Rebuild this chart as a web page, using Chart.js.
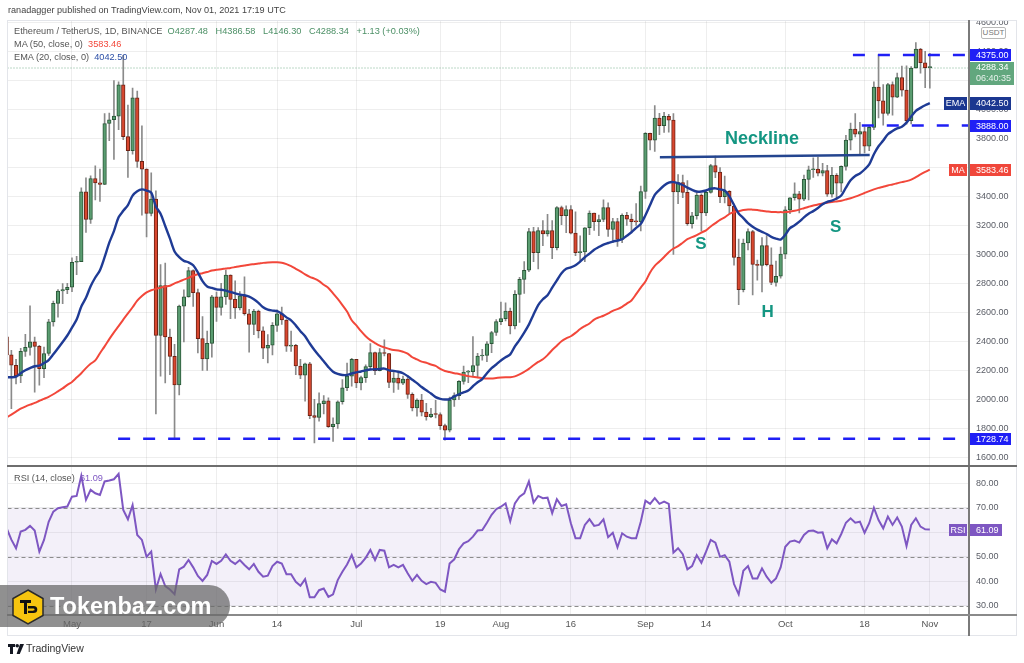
<!DOCTYPE html>
<html><head><meta charset="utf-8">
<script src="https://cdn.jsdelivr.net/npm/chart.js@4.4.0/dist/chart.umd.min.js"></script>
<style>
html,body{margin:0;padding:0;background:#fff;}
#wrap{position:relative;width:1024px;height:663px;overflow:hidden;font-family:"Liberation Sans",Arial,sans-serif;}
canvas{position:absolute;left:0;top:0;}
.abs{position:absolute;}
.lg{position:absolute;left:14px;font-size:9.2px;color:#555;white-space:pre;line-height:13px;}
</style></head><body>
<div id="wrap">
<canvas id="main" width="1024" height="663"></canvas>
<canvas id="rsi" width="1024" height="663"></canvas>

<div class="abs" style="left:7px;top:20px;width:1010px;height:616px;border:1px solid #e3e5ea;box-sizing:border-box;"></div>
<div class="abs" style="left:960px;top:0;width:64px;height:20px;background:#fff;"></div>
<div class="abs" style="left:968px;top:20px;width:1.5px;height:616px;background:#7a7a7a;"></div>
<div class="abs" style="left:7px;top:465px;width:1010px;height:2px;background:#6e6e6e;"></div>
<div class="abs" style="left:7px;top:614px;width:1010px;height:1.5px;background:#8a8a8a;"></div>
<div class="abs" style="left:981px;top:27px;width:23px;height:10px;border:1px solid #b8b8b8;border-radius:2px;background:#fff;font-size:8px;color:#777;text-align:center;line-height:10px;">USDT</div>

<div class="abs" style="left:8px;top:5px;font-size:9.1px;color:#444;white-space:pre;">ranadagger published on TradingView.com, Nov 01, 2021 17:19 UTC</div>
<div class="lg" style="top:25px;">Ethereum / TetherUS, 1D, BINANCE  <span id="ohlc" style="color:#4b8f65"></span></div>
<div class="lg" style="top:38px;">MA (50, close, 0)  <span id="maV" style="color:#f2473a"></span></div>
<div class="lg" style="top:51px;">EMA (20, close, 0)  <span id="emaV" style="color:#2b4ea6"></span></div>
<div class="lg" style="top:472px;">RSI (14, close)  <span id="rsiV" style="color:#7e57c2"></span></div>

<div class="abs" style="left:0;top:585px;width:230px;height:42px;border-radius:0 21px 21px 0;background:rgba(105,105,105,0.74);"></div>
<svg class="abs" style="left:12px;top:589px;" width="32" height="36" viewBox="0 0 32 36">
<polygon points="16,1 31,9.5 31,26.5 16,35 1,26.5 1,9.5" fill="#f6c40f" stroke="#2a2a2a" stroke-width="1.5"/>
<path d="M8 11h11v3h-4v11h-3V14H8z" fill="#111"/>
<path d="M16 17h5.5c2.6 0 3.8 1.3 3.8 3.5 0 2.3-1.4 3.6-3.9 3.6H16v-2.4h5c1 0 1.5-.4 1.5-1.2s-.5-1.1-1.5-1.1H16z" fill="#111"/>
</svg>
<div class="abs" style="left:50px;top:590px;font-size:23.5px;font-weight:bold;color:#fff;line-height:32px;">Tokenbaz.com</div>

<svg class="abs" style="left:8px;top:644px;" width="16" height="10" viewBox="0 0 16 10">
<path d="M0 0h7v3H5v7H2V3H0z" fill="#131722"/><circle cx="9.2" cy="1.8" r="1.8" fill="#131722"/><path d="M12 0h4l-4.2 10H8.6z" fill="#131722"/>
</svg>
<div class="abs" style="left:26px;top:642px;font-size:10.5px;color:#333;">TradingView</div>
</div>

<script>
// ---------- DATA (daily, Apr 17 2021 -> Nov 01 2021) ----------
const opens = [2431,2307,2235,2162,2331,2358,2397,2365,2211,2316,
 2534,2662,2747,2757,2773,2945,2950,3431,3240,3523,
 3493,3482,3902,3928,3953,4169,3812,3715,4079,3641,
 3587,3282,3381,2440,2784,2430,2296,2100,2643,2706,
 2888,2736,2419,2278,2386,2707,2634,2707,2856,2689,
 2630,2714,2590,2517,2608,2472,2353,2373,2510,2589,
 2547,2367,2373,2230,2166,2244,1888,1875,1970,1990,
 1812,1830,1983,2080,2160,2275,2113,2150,2226,2322,
 2197,2323,2316,2116,2146,2111,2140,2034,1941,1995,
 1912,1880,1898,1895,1819,1788,1995,2025,2124,2188,
 2191,2233,2299,2302,2383,2461,2536,2557,2609,2507,
 2724,2827,2890,3157,3012,3163,3140,3164,3045,3323,
 3267,3309,3146,3012,3017,3183,3284,3225,3240,3322,
 3172,3226,3102,3269,3243,3226,3224,3433,3834,3787,
 3940,3887,3951,3926,3430,3495,3427,3211,3266,3408,
 3286,3427,3612,3567,3398,3434,3333,2979,2757,3078,
 3156,2930,2924,3060,2928,2807,2849,3001,3307,3390,
 3417,3380,3517,3583,3587,3560,3577,3415,3544,3490,
 3606,3787,3863,3828,3847,3746,3876,4154,4058,3972,
 4170,4084,4219,4132,3922,4285,4416,4321,4287.48];
const highs = [2497,2337,2276,2352,2448,2644,2430,2373,2360,2551,
 2677,2757,2798,2800,2975,2986,3458,3527,3542,3611,
 3587,3971,3974,4199,4190,4372,4030,4147,4125,3886,
 3590,3562,3438,2930,2940,2485,2380,2650,2755,2911,
 2893,2760,2570,2470,2717,2740,2800,2891,2858,2817,
 2743,2845,2620,2620,2616,2500,2447,2530,2617,2636,
 2550,2470,2380,2275,2250,2255,2000,2045,2025,2010,
 1873,1990,2136,2250,2283,2275,2160,2237,2385,2325,
 2350,2410,2318,2186,2187,2160,2165,2044,2004,2034,
 1973,1937,1993,1907,1829,2016,2045,2130,2230,2200,
 2432,2317,2345,2398,2469,2550,2670,2665,2630,2750,
 2842,2950,3180,3186,3185,3232,3275,3233,3330,3332,
 3335,3336,3293,3128,3185,3300,3285,3270,3375,3355,
 3249,3249,3280,3290,3278,3350,3470,3840,3836,4026,
 3972,3980,3965,3970,3550,3547,3508,3290,3440,3418,
 3440,3620,3677,3599,3540,3440,3346,3105,3105,3175,
 3165,2960,3115,3130,3045,2953,3050,3330,3392,3493,
 3435,3547,3608,3665,3670,3627,3613,3600,3557,3610,
 3820,3905,3970,3910,3880,3890,4190,4375,4170,4180,
 4190,4250,4298,4300,4295,4460,4420,4400,4386.58];
const lows = [2298,1936,2106,2114,2295,2305,2050,2098,2150,2303,
 2505,2566,2660,2728,2743,2860,2950,3151,3213,3375,
 3365,3480,3783,3655,3860,3791,3530,3690,3600,3270,
 3120,3265,1900,2160,2113,2170,1728,2030,2395,2705,
 2640,2320,2200,2200,2290,2538,2580,2655,2557,2558,
 2616,2581,2325,2445,2423,2280,2251,2306,2468,2517,
 2330,2330,2170,2143,1988,1867,1700,1850,1900,1806,
 1710,1800,1967,2060,2090,2080,2065,2117,2210,2170,
 2195,2300,2081,2048,2068,2101,2007,1920,1883,1886,
 1857,1874,1872,1792,1718,1776,1951,1997,2104,2115,
 2157,2153,2270,2260,2322,2440,2515,2540,2451,2485,
 2530,2730,2880,2950,2900,3060,3125,2970,3030,3205,
 3150,3141,2990,2952,2950,3135,3164,3128,3225,3123,
 3080,3055,3080,3200,3153,3200,3162,3385,3720,3710,
 3825,3840,3842,3000,3350,3390,3200,3180,3242,3160,
 3266,3422,3528,3356,3355,3280,2925,2652,2740,3030,
 2720,2822,2740,2920,2791,2781,2836,2970,3280,3373,
 3285,3370,3376,3530,3540,3540,3400,3394,3375,3430,
 3580,3720,3810,3680,3700,3715,3860,3940,3890,3960,
 3960,4080,4090,3898,3900,4283,4250,4150,4146.30];
const closes = [2307,2235,2162,2331,2358,2397,2365,2211,2316,2534,
 2662,2747,2757,2773,2945,2950,3431,3240,3523,3493,
 3482,3902,3928,3953,4169,3812,3715,4079,3641,3587,
 3282,3381,2440,2784,2430,2296,2100,2643,2706,2888,
 2736,2419,2278,2386,2707,2634,2707,2856,2689,2630,
 2714,2590,2517,2608,2472,2353,2373,2510,2589,2547,
 2367,2373,2230,2166,2244,1888,1875,1970,1990,1812,
 1830,1983,2080,2160,2275,2113,2150,2226,2322,2197,
 2323,2316,2116,2146,2111,2140,2034,1941,1995,1912,
 1880,1898,1895,1819,1788,1995,2025,2124,2188,2191,
 2233,2299,2302,2383,2461,2536,2557,2609,2507,2724,
 2827,2890,3157,3012,3163,3140,3164,3045,3323,3267,
 3309,3146,3012,3017,3183,3284,3225,3240,3322,3172,
 3226,3102,3269,3243,3226,3224,3433,3834,3787,3940,
 3887,3951,3926,3430,3495,3427,3211,3266,3408,3286,
 3427,3612,3567,3398,3434,3333,2979,2757,3078,3156,
 2930,2924,3060,2928,2807,2849,3001,3307,3390,3417,
 3380,3517,3583,3587,3560,3577,3415,3544,3490,3606,
 3787,3863,3828,3847,3746,3876,4154,4058,3972,4170,
 4084,4219,4132,3922,4285,4416,4321,4287,4288.34];
const ema20 = [2152,2152,2156,2180,2200,2215,2228,2232,2250,2271,
 2310,2352,2395,2440,2495,2550,2640,2700,2780,2840,
 2890,2980,3080,3160,3255,3300,3340,3405,3435,3448,
 3440,3425,3330,3280,3195,3110,3020,2980,2955,2945,
 2925,2875,2815,2778,2768,2758,2756,2750,2740,2730,
 2722,2718,2708,2690,2665,2635,2618,2612,2608,2590,
 2565,2545,2510,2470,2435,2385,2340,2300,2262,2222,
 2190,2175,2168,2168,2178,2186,2192,2200,2206,2207,
 2209,2212,2200,2196,2190,2180,2160,2135,2112,2085,
 2062,2040,2015,2003,1999,2002,2020,2035,2048,2060,
 2090,2118,2140,2180,2215,2240,2268,2290,2310,2365,
 2410,2460,2515,2585,2650,2690,2718,2770,2820,2870,
 2900,2910,2925,2950,2980,3005,3032,3050,3067,3078,
 3088,3095,3104,3128,3152,3182,3210,3270,3340,3410,
 3445,3475,3495,3498,3490,3478,3460,3445,3432,3433,
 3440,3452,3455,3448,3440,3400,3340,3282,3250,3215,
 3190,3170,3155,3140,3120,3108,3102,3135,3180,3200,
 3225,3255,3280,3298,3320,3345,3362,3370,3385,3405,
 3460,3510,3540,3558,3585,3620,3690,3745,3785,3828,
 3850,3868,3880,3908,3950,3990,4010,4028,4042.50];
const ma50 = [1875,1895,1915,1935,1950,1963,1975,1990,2003,2017,
 2035,2055,2075,2100,2120,2150,2180,2215,2245,2268,
 2318,2365,2415,2462,2505,2550,2592,2635,2680,2712,
 2737,2752,2761,2770,2778,2783,2800,2812,2825,2838,
 2852,2862,2870,2878,2888,2894,2897,2902,2906,2912,
 2918,2923,2928,2932,2936,2941,2944,2945,2945,2942,
 2932,2918,2900,2882,2862,2845,2832,2815,2790,2768,
 2730,2692,2650,2605,2545,2510,2470,2435,2408,2388,
 2370,2358,2348,2340,2337,2328,2315,2290,2275,2260,
 2252,2240,2230,2210,2195,2188,2180,2175,2168,2160,
 2155,2150,2146,2143,2144,2147,2150,2152,2152,2158,
 2172,2190,2210,2235,2258,2276,2305,2340,2370,2400,
 2420,2435,2458,2485,2505,2523,2550,2565,2576,2592,
 2610,2622,2638,2660,2682,2725,2770,2813,2875,2920,
 2950,2982,3015,3040,3056,3080,3105,3118,3133,3150,
 3165,3192,3215,3238,3255,3278,3292,3298,3305,3309,
 3308,3306,3300,3296,3292,3291,3291,3291,3295,3300,
 3308,3318,3328,3337,3343,3350,3356,3360,3365,3370,
 3378,3387,3398,3410,3423,3436,3448,3458,3466,3475,
 3482,3490,3498,3505,3515,3532,3551,3568,3583.46];
const rsi14 = [61.6,57,53.5,60.3,61,62.6,60.7,52.1,56.9,64.3,
 68.4,69.8,70.2,70.5,74.5,74.8,83,73.2,77.3,75.9,
 75.2,80.7,81.1,81.6,83.8,69.1,65.3,71.1,58.9,56.9,
 50,52.1,36.7,43,38.1,36.7,34.8,44.9,46,48.7,
 45.7,42.2,40.2,42.6,48.3,47.1,48.4,51,48.4,47.1,
 48.7,46.7,44.9,47.1,43.9,41.9,42.3,46.2,48,47.3,
 42.9,42.9,39.8,38.2,40.9,33.5,33.5,36.4,37.1,33.7,
 34.7,40.5,43.9,46.9,50.7,45.7,47.3,49.6,52.8,48.7,
 52.8,52.5,45.7,46.7,45.7,46.7,43.3,40.2,42.6,40.2,
 38.9,39.8,39.4,36.7,35.8,47.3,49,53.1,55.5,56.4,
 58.2,60.7,60.9,63.9,67.1,69.4,70.4,71.8,64.5,71.8,
 74.5,75.9,80.7,72.1,74.8,73.9,74.1,67.8,73.5,70.7,
 71.4,63.7,57.6,57.6,63,65.3,62.6,63,65.3,58,
 59.8,53.9,59.6,58.2,57.6,57.6,64.3,72.9,71.6,73.9,
 71.6,72.5,71.6,51.7,53.5,51.1,44.9,46.2,50.7,47.6,
 52.1,56.9,55.8,50,50.7,48,38.9,34.7,44.3,46.2,
 41.2,41.2,45.3,41.9,39.4,41.2,45.7,54.1,56.2,56.6,
 55.8,58.9,60.5,60.7,59.8,60,53.5,57.1,55.5,59.3,
 63.9,65.7,63.9,64.3,59.8,63.7,70,65,61.6,66.4,
 63,66,62.3,54.4,63,65.7,62.3,61.2,61.09];

// tick labels (day index from Apr 17)
const tickDays = [14,30,45,58,75,93,106,121,137,150,167,184,198];
const tickLabels = ['May','17','Jun','14','Jul','19','Aug','16','Sep','14','Oct','18','Nov'];
const priceTicks = [1600,1800,2000,2200,2400,2600,2800,3000,3200,3400,3600,3800,4000,4200,4400,4600];
const rsiTicks = [30,40,50,60,70,80];

// drawn levels & pattern annotations (in data units)
const levelValues = [4375, 3888, 1728.74];
const levelStartDays = [181.5, 183.4, 23.9];
const necklineDays = [140.1, 185.1];
const necklinePrices = [3669, 3685];
const noteLabels = ['Neckline', 'S', 'H', 'S'];
const noteDays = [162, 148.9, 163.2, 177.8];
const notePrices = [3795, 3071, 2599, 3188];

// ---------- CONFIG ----------
const X_MIN = 0.17, X_MAX = 206.4;
const FONT = '"Liberation Sans", Arial, sans-serif';
const GRID = 'rgba(0,0,0,0.065)';
const N = closes.length, L = N - 1;
const fmt = v => Number(v).toFixed(2);

document.getElementById('ohlc').textContent =
  'O' + fmt(opens[L]) + '   H' + fmt(highs[L]) + '   L' + fmt(lows[L]) + '   C' + fmt(closes[L]) + '   +1.13 (+0.03%)';
document.getElementById('maV').textContent = fmt(ma50[L]);
document.getElementById('emaV').textContent = fmt(ema20[L]);
document.getElementById('rsiV').textContent = fmt(rsi14[L]);

const upFill = '#5a9d71', upLine = '#2a5637', dnFill = '#d8472f', dnLine = '#6e2214';
const isUp = closes.map((c, i) => c >= opens[i]);

function tag(ctx, x, yc, w, h, bg, text, align) {
  ctx.fillStyle = bg;
  ctx.fillRect(x, Math.round(yc - h / 2), w, h);
  ctx.fillStyle = '#fff';
  ctx.textBaseline = 'middle';
  if (align === 'center') { ctx.textAlign = 'center'; ctx.fillText(text, x + w / 2, yc + 0.5); }
  else { ctx.textAlign = 'left'; ctx.fillText(text, 976, yc + 0.5); }
}

const mainPlugin = {
  id: 'mainPlugin',
  beforeDatasetsDraw(chart) {
    const { ctx, chartArea: a, scales: { y } } = chart;
    const py = y.getPixelForValue(closes[L]);
    ctx.save();
    ctx.strokeStyle = 'rgba(75,150,105,0.75)';
    ctx.lineWidth = 1;
    ctx.setLineDash([1, 2]);
    ctx.beginPath(); ctx.moveTo(a.left, py + 0.5); ctx.lineTo(a.right, py + 0.5); ctx.stroke();
    ctx.restore();
  },
  afterDatasetsDraw(chart) {
    const { ctx, scales: { x, y } } = chart;
    ctx.save();
    ctx.fillStyle = '#149682';
    ctx.textAlign = 'center';
    ctx.textBaseline = 'middle';
    noteLabels.forEach((t, i) => {
      ctx.font = (i === 0 ? 'bold 18px ' : 'bold 17px ') + FONT;
      ctx.fillText(t, x.getPixelForValue(noteDays[i]), y.getPixelForValue(notePrices[i]));
    });
    ctx.restore();
  },
  afterDraw(chart) {
    const { ctx, scales: { y } } = chart;
    ctx.save();
    ctx.font = '9px ' + FONT;
    levelValues.forEach(v => tag(ctx, 969, y.getPixelForValue(v), 42, 12, '#1f1ff5', fmt(v)));
    const ye = y.getPixelForValue(ema20[L]);
    tag(ctx, 969, ye, 42, 13, '#1b3790', fmt(ema20[L]));
    tag(ctx, 944, ye, 23, 13, '#1b3790', 'EMA', 'center');
    const ym = y.getPixelForValue(ma50[L]);
    tag(ctx, 969, ym, 42, 12, '#f0473b', fmt(ma50[L]));
    tag(ctx, 949, ym, 18, 12, '#f0473b', 'MA', 'center');
    const yc = y.getPixelForValue(closes[L]);
    ctx.fillStyle = '#62a77e';
    ctx.fillRect(969, Math.round(yc - 6), 45, 23);
    ctx.fillStyle = '#fff'; ctx.textAlign = 'left'; ctx.textBaseline = 'middle';
    ctx.fillText(fmt(closes[L]), 976, yc + 0.5);
    ctx.fillStyle = 'rgba(255,255,255,0.85)';
    ctx.fillText('06:40:35', 976, yc + 11.5);
    ctx.restore();
  }
};

const xCommon = {
  type: 'linear', min: X_MIN, max: X_MAX, offset: false,
  afterBuildTicks: s => { s.ticks = tickDays.map(v => ({ value: v })); },
  grid: { color: GRID, drawTicks: false, offset: false },
  border: { display: false }
};

new Chart(document.getElementById('main'), {
  type: 'bar',
  data: {
    datasets: [
      ...levelValues.map((v, i) => ({
        type: 'line', data: [{ x: levelStartDays[i], y: v }, { x: X_MAX, y: v }],
        borderColor: '#1f1ff5', borderWidth: 2.5, borderDash: [12, 13], pointRadius: 0, order: 0, clip: 0
      })),
      { type: 'line', data: necklineDays.map((d, i) => ({ x: d, y: necklinePrices[i] })),
        borderColor: '#24458f', borderWidth: 2.5, pointRadius: 0, order: 0, clip: 0 },
      { type: 'line', label: 'EMA 20', data: ema20.map((v, i) => ({ x: i, y: v })),
        borderColor: '#1f3b95', borderWidth: 2.4, pointRadius: 0, tension: 0.3, order: 1, clip: 0 },
      { type: 'line', label: 'MA 50', data: ma50.map((v, i) => ({ x: i, y: v })),
        borderColor: '#f2473a', borderWidth: 2, pointRadius: 0, tension: 0.3, order: 2, clip: 0 },
      { label: 'body', data: closes.map((c, i) => ({ x: i, y: [opens[i], c] })),
        backgroundColor: isUp.map(u => u ? upFill : dnFill), borderColor: isUp.map(u => u ? upLine : dnLine),
        borderWidth: 1, borderSkipped: false, barThickness: 3.6, minBarLength: 1, grouped: false, order: 4, clip: 0 },
      { label: 'wick', data: highs.map((h, i) => ({ x: i, y: [lows[i], h] })),
        backgroundColor: '#8a8a8a', borderWidth: 0, barThickness: 1, grouped: false, order: 5, clip: 0 }
    ]
  },
  options: {
    responsive: false, animation: false, devicePixelRatio: 1, events: [],
    layout: { padding: { left: 7.5, top: 20, right: 7, bottom: 198 } },
    plugins: { legend: { display: false }, tooltip: { enabled: false } },
    scales: {
      x: Object.assign({}, xCommon, { ticks: { display: false }, afterFit: s => { s.height = 0; } }),
      y: {
        type: 'linear', position: 'right', min: 1547, max: 4616,
        afterBuildTicks: s => { s.ticks = priceTicks.map(v => ({ value: v })); },
        ticks: { callback: v => fmt(v), font: { size: 9, family: FONT }, color: '#5a5d66', padding: 7 },
        grid: { color: GRID, drawTicks: false }, border: { display: false },
        afterFit: s => { s.width = 48; }
      }
    }
  },
  plugins: [mainPlugin]
});

const rsiPlugin = {
  id: 'rsiPlugin',
  beforeDatasetsDraw(chart) {
    const { ctx, chartArea: a, scales: { y } } = chart;
    ctx.save();
    const y70 = y.getPixelForValue(70), y30 = y.getPixelForValue(30);
    ctx.fillStyle = 'rgba(126,87,194,0.09)';
    ctx.fillRect(a.left, y70, a.right - a.left, y30 - y70);
    ctx.strokeStyle = '#8c8c8c'; ctx.lineWidth = 1; ctx.setLineDash([4, 3]);
    [70, 50, 30].forEach(v => {
      const py = Math.round(y.getPixelForValue(v)) + 0.5;
      ctx.beginPath(); ctx.moveTo(a.left, py); ctx.lineTo(a.right, py); ctx.stroke();
    });
    ctx.restore();
  },
  afterDraw(chart) {
    const { ctx, scales: { y } } = chart;
    ctx.save();
    ctx.font = '9px ' + FONT;
    const yr = y.getPixelForValue(rsi14[L]);
    tag(ctx, 969, yr, 33, 12, '#7e57c2', fmt(rsi14[L]));
    tag(ctx, 949, yr, 18, 12, '#7e57c2', 'RSI', 'center');
    ctx.restore();
  }
};

new Chart(document.getElementById('rsi'), {
  type: 'line',
  data: {
    datasets: [{ label: 'RSI 14', data: rsi14.map((v, i) => ({ x: i, y: v })),
      borderColor: '#7e57c2', borderWidth: 2, pointRadius: 0, tension: 0, clip: 0 }]
  },
  options: {
    responsive: false, animation: false, devicePixelRatio: 1, events: [],
    layout: { padding: { left: 7.5, top: 467, right: 7, bottom: 27 } },
    plugins: { legend: { display: false }, tooltip: { enabled: false } },
    scales: {
      x: Object.assign({}, xCommon, {
        ticks: { callback: (v, i) => tickLabels[i], font: { size: 9.5, family: FONT }, color: '#555',
                 padding: 5, maxRotation: 0, autoSkip: false },
        afterFit: s => { s.height = 22; }
      }),
      y: {
        type: 'linear', position: 'right', min: 26.7, max: 86.6,
        afterBuildTicks: s => { s.ticks = rsiTicks.map(v => ({ value: v })); },
        ticks: { callback: v => fmt(v), font: { size: 9, family: FONT }, color: '#5a5d66', padding: 7 },
        grid: { color: GRID, drawTicks: false }, border: { display: false },
        afterFit: s => { s.width = 48; }
      }
    }
  },
  plugins: [rsiPlugin]
});
</script>
</body></html>
